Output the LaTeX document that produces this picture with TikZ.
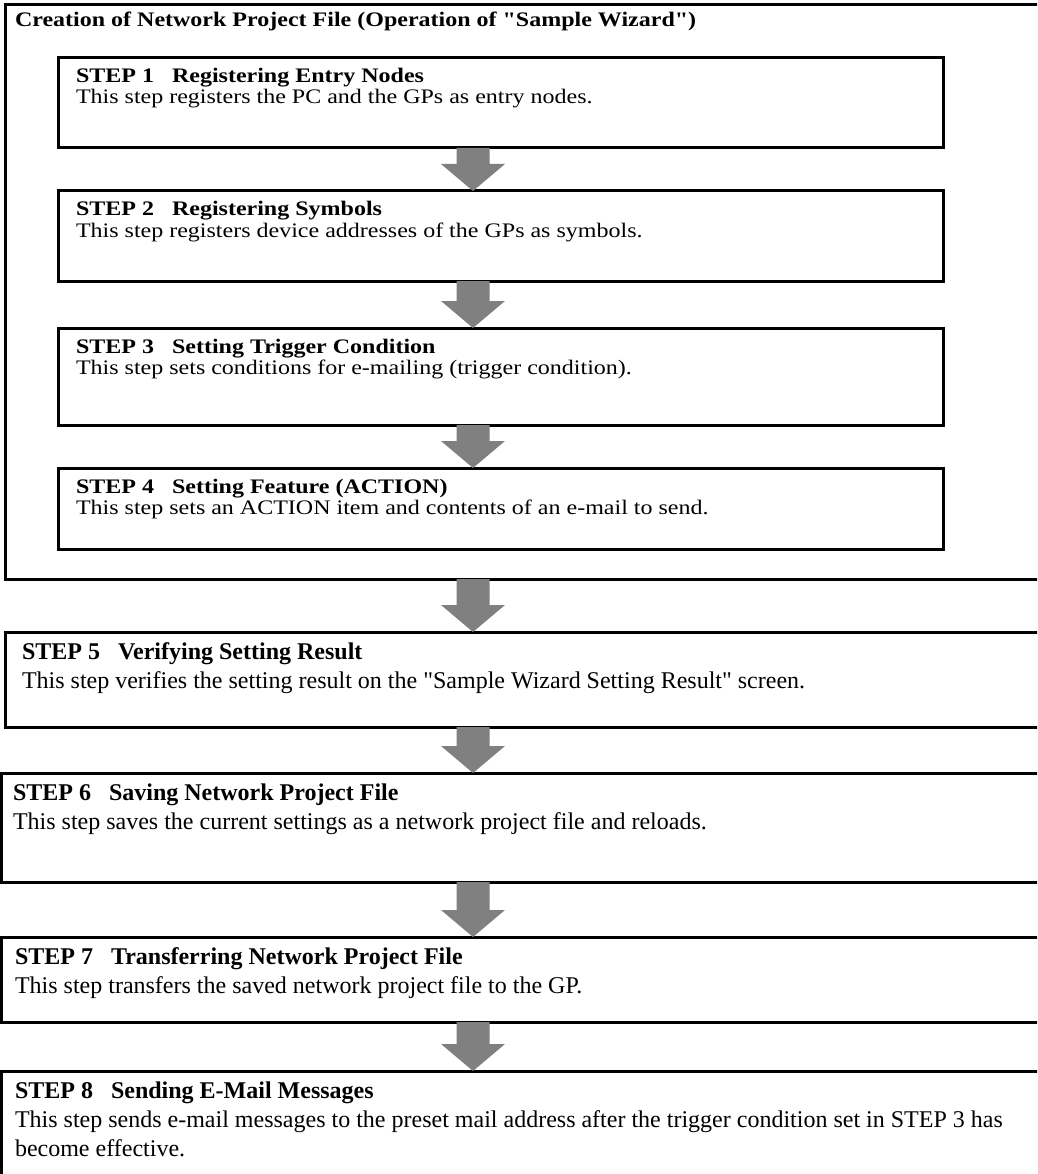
\documentclass[tikz,border=0pt]{standalone}
\usepackage{fontspec}
\usepackage{graphicx}
\setmainfont{Liberation Serif}
\usetikzlibrary{calc}
\definecolor{arrgray}{HTML}{808080}
\tikzset{
  box/.style={draw=black, line width=3pt, rectangle, inner sep=0pt, outer sep=0pt, anchor=north west},
  txt/.style={anchor=base west, inner sep=0pt, outer sep=0pt, font=\fontsize{24}{29}\selectfont},
  head/.style={txt, font=\fontsize{24}{29}\selectfont\bfseries},
  arr/.style={fill=arrgray, draw=none}
}
\newcommand{\sq}[1]{\scalebox{1}[0.86]{#1}}
\newcommand{\flowarrow}[2]{%
  \fill[arr] ($(#1.south -| ax)+(-16.5,0)$) -- ($(#1.south -| ax)+(16.5,0)$)
    -- ($(#2.north -| ax)+(16.5,-27)$) -- ($(#2.north -| ax)+(32,-27)$)
    -- (#2.north -| ax) -- ($(#2.north -| ax)+(-32,-27)$)
    -- ($(#2.north -| ax)+(-16.5,-27)$) -- cycle;}
\begin{document}
\begin{tikzpicture}[x=1pt, y=-1pt]
\useasboundingbox (0,0) rectangle (1037,1174);
\clip (0,0) rectangle (1037,1174);
\coordinate (ax) at (473,0);
% boxes
\node[box, minimum width=1040pt, minimum height=574pt] (outer) at (5,5) {};
\node[box, minimum width=885pt, minimum height=90pt] (s1) at (58,58) {};
\node[box, minimum width=885pt, minimum height=90pt] (s2) at (58,191) {};
\node[box, minimum width=885pt, minimum height=97pt] (s3) at (58,328) {};
\node[box, minimum width=885pt, minimum height=81pt] (s4) at (58,468) {};
\node[box, minimum width=1040pt, minimum height=95pt] (s5) at (5,632) {};
\node[box, minimum width=1044pt, minimum height=109pt] (s6) at (1,773) {};
\node[box, minimum width=1044pt, minimum height=85pt] (s7) at (1,937) {};
\node[box, minimum width=1044pt, minimum height=120pt] (s8) at (1,1071) {};
% arrows
\flowarrow{s1}{s2}
\flowarrow{s2}{s3}
\flowarrow{s3}{s4}
\flowarrow{outer}{s5}
\flowarrow{s5}{s6}
\flowarrow{s6}{s7}
\flowarrow{s7}{s8}
% texts
\node[head] (title) at (15,27) {\sq{Creation of Network Project File (Operation of \textquotedbl Sample Wizard\textquotedbl)}};
\node[head] (h1) at (76,83) {\sq{STEP 1\hspace{18pt}Registering Entry Nodes}};
\node[txt] (t1) at (76,104) {\sq{This step registers the PC and the GPs as entry nodes.}};
\node[head] (h2) at (76,216) {\sq{STEP 2\hspace{18pt}Registering Symbols}};
\node[txt] (t2) at (76,237) {\sq{This step registers device addresses of the GPs as symbols.}};
\node[head] (h3) at (76,353) {\sq{STEP 3\hspace{18pt}Setting Trigger Condition}};
\node[txt] (t3) at (76,374) {\sq{This step sets conditions for e-mailing (trigger condition).}};
\node[head] (h4) at (76,493) {\sq{STEP 4\hspace{18pt}Setting Feature (ACTION)}};
\node[txt] (t4) at (76,514) {\sq{This step sets an ACTION item and contents of an e-mail to send.}};
\node[head] (h5) at (22,659) {STEP 5\hspace{18pt}Verifying Setting Result};
\node[txt] (t5) at (22,688) {This step verifies the setting result on the \textquotedbl Sample Wizard Setting Result\textquotedbl\ screen.};
\node[head] (h6) at (13,800) {STEP 6\hspace{18pt}Saving Network Project File};
\node[txt] (t6) at (13,829) {This step saves the current settings as a network project file and reloads.};
\node[head] (h7) at (15,964) {STEP 7\hspace{18pt}Transferring Network Project File};
\node[txt] (t7) at (15,993) {This step transfers the saved network project file to the GP.};
\node[head] (h8) at (15,1098) {STEP 8\hspace{18pt}Sending E-Mail Messages};
\node[txt] (t8a) at (15,1127) {This step sends e-mail messages to the preset mail address after the trigger condition set in STEP 3 has};
\node[txt] (t8b) at (15,1156) {become effective.};
\end{tikzpicture}
\end{document}
